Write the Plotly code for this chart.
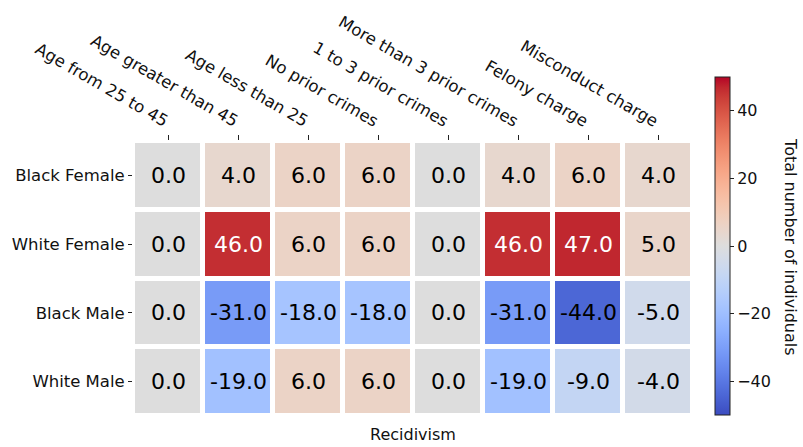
import plotly.graph_objects as go

# Categories and values
features = [
    "Age from 25 to 45",
    "Age greater than 45",
    "Age less than 25",
    "No prior crimes",
    "1 to 3 prior crimes",
    "More than 3 prior crimes",
    "Felony charge",
    "Misconduct charge",
]
groups = ["Black Female", "White Female", "Black Male", "White Male"]

black_female = [0, 4, 6, 6, 0, 4, 6, 4]
white_female = [0, 46, 6, 6, 0, 46, 47, 5]
black_male = [0, -31, -18, -18, 0, -31, -44, -5]
white_male = [0, -19, 6, 6, 0, -19, -9, -4]

z = [black_female, white_female, black_male, white_male]

# Diverging "coolwarm" colour ramp
cw = [
    (59, 76, 192), (68, 90, 204), (77, 104, 215), (87, 117, 225),
    (98, 130, 234), (108, 142, 241), (119, 154, 247), (130, 165, 251),
    (141, 176, 254), (152, 185, 255), (163, 194, 255), (174, 201, 253),
    (184, 208, 249), (194, 213, 244), (204, 217, 238), (213, 219, 230),
    (221, 221, 221), (229, 216, 209), (236, 211, 197), (241, 204, 184),
    (245, 196, 172), (247, 187, 160), (247, 177, 148), (247, 166, 135),
    (244, 154, 123), (241, 141, 111), (236, 127, 99), (229, 112, 88),
    (222, 96, 77), (213, 80, 66), (203, 62, 56), (192, 40, 47),
    (180, 4, 38),
]
colorscale = [[i / (len(cw) - 1), "rgb(%d,%d,%d)" % c] for i, c in enumerate(cw)]

FONT = "DejaVu Sans"
LABEL_SIZE = 16.5

fig = go.Figure(
    go.Heatmap(
        z=z,
        x=features,
        y=groups,
        colorscale=colorscale,
        zmin=-50,
        zmax=50,
        xgap=5,
        ygap=5,
        hoverinfo="skip",
        colorbar=dict(
            x=1.039,
            xanchor="left",
            y=0.618,
            yanchor="middle",
            len=338,
            lenmode="pixels",
            thickness=15,
            thicknessmode="pixels",
            outlinewidth=1,
            outlinecolor="#222",
            ticks="outside",
            ticklen=4,
            tickwidth=1,
            tickcolor="#222",
            tickvals=[-40, -20, 0, 20, 40],
            tickfont=dict(family=FONT, size=16, color="#111"),
            xpad=0,
            ypad=0,
        ),
    )
)

# Cell value labels
annotations = []
for r, row in enumerate(z):
    for c, v in enumerate(row):
        annotations.append(
            dict(
                x=features[c],
                y=groups[r],
                text=f"{v:.1f}",
                showarrow=False,
                font=dict(family=FONT, size=22, color="white" if v > 40 else "black"),
            )
        )

fig.update_layout(
    width=803,
    height=447,
    margin=dict(l=133, r=110, t=136, b=31),
    paper_bgcolor="white",
    plot_bgcolor="white",
    annotations=annotations,
    font=dict(family=FONT, color="#111"),
    xaxis=dict(
        side="top",
        tickangle=30,
        ticks="outside",
        ticklen=5,
        tickcolor="#222",
        tickfont=dict(family=FONT, size=LABEL_SIZE, color="#111"),
        showgrid=False,
        zeroline=False,
        showline=False,
    ),
    yaxis=dict(
        autorange="reversed",
        ticks="outside",
        ticklen=4,
        tickcolor="#222",
        tickfont=dict(family=FONT, size=LABEL_SIZE, color="#111"),
        showgrid=False,
        zeroline=False,
        showline=False,
    ),
)

# Axis title below the grid
fig.add_annotation(
    x=0.5,
    y=-0.068,
    xref="paper",
    yref="paper",
    text="Recidivism",
    showarrow=False,
    xanchor="center",
    yanchor="middle",
    font=dict(family=FONT, size=16, color="#111"),
)

# Colour bar title, reading top to bottom
fig.add_annotation(
    x=(791 - 133) / 560,
    y=(416 - 243) / 280,
    xref="paper",
    yref="paper",
    text="Total number of individuals",
    textangle=90,
    showarrow=False,
    xanchor="center",
    yanchor="middle",
    font=dict(family=FONT, size=16, color="#111"),
)

fig.write_html("out.html")
